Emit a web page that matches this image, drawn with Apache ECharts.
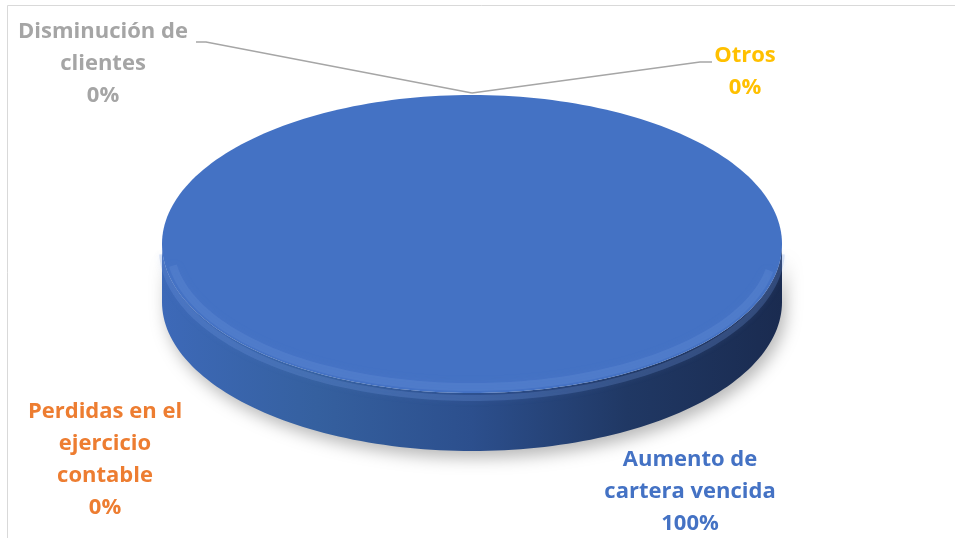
<!DOCTYPE html>
<html>
<head>
<meta charset="utf-8">
<script src="https://cdn.jsdelivr.net/npm/echarts@6/dist/echarts.min.js"></script>
<style>
  html, body { margin: 0; padding: 0; background: #ffffff; }
  #chart { width: 955px; height: 538px; }
</style>
</head>
<body>
<div id="chart"></div>
<script>
// Causes and their share
const categories = ['Aumento de cartera vencida', 'Perdidas en el ejercicio contable', 'Disminución de clientes', 'Otros'];
const values = [100, 0, 0, 0];
// Wrapped category names used in the slice labels
const labelNames = ['Aumento de\ncartera vencida', 'Perdidas en el\nejercicio\ncontable', 'Disminución de\nclientes', 'Otros'];

// Slice colours
const sliceColors = ['#4472C4', '#ED7D31', '#A5A5A5', '#FFC000'];

// Disc geometry (tilted pie drawn as an ellipse with a side wall)
const geo = { cx: 472, cy: 244, rx: 310, ry: 149, depth: 58 };

// Label placement: top-centre of the text block, and optional leader-line elbow
const labelLayout = [
  { x: 690, y: 444 },
  { x: 105, y: 396 },
  { x: 103, y: 16, leader: [[196, 42], [206, 42]] },
  { x: 745, y: 40, leader: [[712, 62], [700, 62]] }
];

const total = values.reduce((a, b) => a + b, 0);
const startAngles = [];
values.reduce((acc, v) => { startAngles.push(acc); return acc + v / total * 360; }, 0);

function pt(deg, dy) {
  const r = deg * Math.PI / 180;
  return [geo.cx + geo.rx * Math.sin(r), geo.cy - geo.ry * Math.cos(r) + (dy || 0)];
}
function arc(a0, a1, dy, n) {
  const pts = [];
  for (let i = 0; i <= n; i++) pts.push(pt(a0 + (a1 - a0) * i / n, dy));
  return pts;
}

function renderItem(params, api) {
  const i = params.dataIndex;
  const v = api.value(0);
  const a0 = startAngles[i];
  const a1 = a0 + v / total * 360;
  const mid = (a0 + a1) / 2;
  const children = [];
  const color = sliceColors[i];

  if (v > 0) {
    const full = (a1 - a0) >= 359.999;
    // Side wall: visible front half between 90° and 270°
    const s = Math.max(a0, 90), e = Math.min(a1, 270);
    if (e > s) {
      const top = arc(s, e, 0, 120);
      const bottom = arc(e, s, geo.depth, 120);
      children.push({
        type: 'polygon',
        shape: { points: top.concat(bottom) },
        style: {
          fill: {
            type: 'linear', x: 0, y: 0, x2: 1, y2: 0,
            colorStops: [
              { offset: 0, color: '#3d69b8' },
              { offset: 0.25, color: '#35609f' },
              { offset: 0.5, color: '#2c4f8d' },
              { offset: 0.75, color: '#203864' },
              { offset: 1, color: '#1a2b50' }
            ]
          },
          shadowBlur: 16,
          shadowColor: 'rgba(0,0,0,0.28)',
          shadowOffsetX: 4,
          shadowOffsetY: 7
        }
      });
      // Light band along the upper edge of the wall
      children.push({
        type: 'polyline',
        shape: { points: arc(s + 2, e - 2, 5, 120) },
        style: { stroke: 'rgba(110,150,225,0.25)', lineWidth: 6, fill: null, shadowBlur: 6, shadowColor: 'rgba(110,150,225,0.4)' }
      });
    }
    // Top face
    const facePts = full ? arc(0, 360, 0, 240) : [[geo.cx, geo.cy]].concat(arc(a0, a1, 0, 200));
    children.push({
      type: 'polygon',
      shape: { points: facePts },
      style: { fill: color }
    });
    // Soft bevel highlight near the front rim of the face
    const inset = { rx: geo.rx - 8, ry: geo.ry - 8 };
    const bevel = [];
    const b0 = Math.max(a0, 100), b1 = Math.min(a1, 262);
    for (let k = 0; k <= 120; k++) {
      const d = (b0 + (b1 - b0) * k / 120) * Math.PI / 180;
      bevel.push([geo.cx + inset.rx * Math.sin(d), geo.cy - inset.ry * Math.cos(d) + 2]);
    }
    if (b1 > b0) {
      children.push({
        type: 'polyline',
        shape: { points: bevel },
        style: { stroke: 'rgba(120,160,230,0.18)', lineWidth: 8, fill: null, shadowBlur: 10, shadowColor: 'rgba(120,160,230,0.45)' }
      });
    }
  }

  // Leader line for labels placed away from their slice
  const lay = labelLayout[i];
  if (lay.leader) {
    children.push({
      type: 'polyline',
      shape: { points: lay.leader.concat([pt(mid, -2)]) },
      style: { stroke: '#a6a6a6', lineWidth: 1.5, fill: null }
    });
  }

  // Label: category name and percentage
  const pct = Math.round(v / total * 100) + '%';
  children.push({
    type: 'text',
    x: lay.x,
    y: lay.y,
    style: {
      text: labelNames[i] + '\n' + pct,
      fill: color,
      font: 'bold 22px "Open Sans", sans-serif',
      align: 'center',
      verticalAlign: 'top',
      lineHeight: 32
    }
  });

  return { type: 'group', children: children };
}

const chart = echarts.init(document.getElementById('chart'), null, { renderer: 'canvas' });
chart.setOption({
  animation: false,
  backgroundColor: '#ffffff',
  graphic: [{
    type: 'rect',
    shape: { x: 7.5, y: 5.5, width: 1000, height: 600 },
    style: { fill: null, stroke: '#d9d9d9', lineWidth: 1 },
    silent: true
  }],
  series: [{
    type: 'custom',
    coordinateSystem: 'none',
    renderItem: renderItem,
    data: values.map((v, i) => ({ name: categories[i], value: [v] }))
  }]
});
</script>
</body>
</html>
